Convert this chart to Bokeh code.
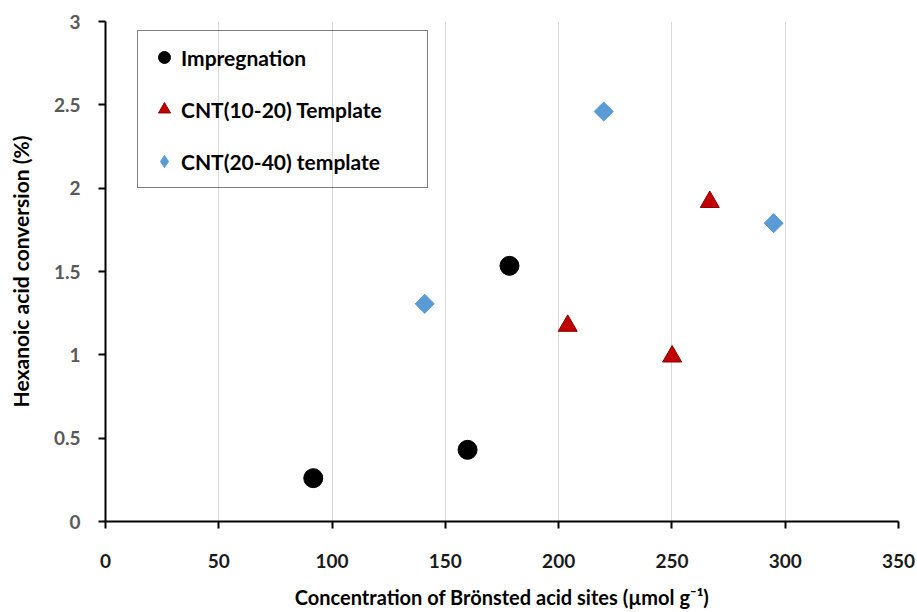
import numpy as np
from bokeh.plotting import figure
from bokeh.models import FixedTicker, Range1d, Legend, LegendItem
from bokeh.embed import file_html
from bokeh.resources import INLINE

# Data
impreg_x = [91.7, 159.8, 178.3]
impreg_y = [0.26, 0.43, 1.534]

cnt1020_x = [204.0, 250.1, 266.7]
cnt1020_y = [1.174, 0.99, 1.917]

cnt2040_x = [140.9, 219.9, 294.9]
cnt2040_y = [1.306, 2.46, 1.79]

x_ticks = [0, 50, 100, 150, 200, 250, 300, 350]
y_ticks = [0, 0.5, 1, 1.5, 2, 2.5, 3]
y_tick_labels = ["0", "0.5", "1", "1.5", "2", "2.5", "3"]

FONT = "Lato"
BLUE = "#5B9BD5"

p = figure(width=917, height=612, output_backend="svg", toolbar_location=None,
           x_range=Range1d(0, 350), y_range=Range1d(0, 3),
           min_border_left=105, min_border_right=19, min_border_top=21, min_border_bottom=91)
p.outline_line_color = None
p.background_fill_color = "white"
p.border_fill_color = "white"

r1 = p.scatter(impreg_x, impreg_y, marker="circle", size=19, fill_color="black", line_color="black")
r2 = p.scatter(cnt1020_x, cnt1020_y, marker="triangle", size=19, fill_color="#C00000", line_color="#8B0000")
# diamond glyph (used for the legend), fully covered by the rotated square below
r3_leg = p.scatter(cnt2040_x, cnt2040_y, marker="diamond", size=12, fill_color=BLUE, line_color=BLUE)
r3 = p.scatter(cnt2040_x, cnt2040_y, marker="square", angle=np.pi / 4, size=13.5,
               fill_color=BLUE, line_color=BLUE)

p.xaxis.ticker = FixedTicker(ticks=x_ticks)
p.yaxis.ticker = FixedTicker(ticks=y_ticks)
p.yaxis.major_label_overrides = {v: s for v, s in zip(y_ticks, y_tick_labels)}

for ax in (p.xaxis[0], p.yaxis[0]):
    ax.axis_line_width = 2
    ax.axis_line_color = "black"
    ax.major_tick_line_width = 2
    ax.major_tick_line_color = "black"
    ax.major_tick_out = 7
    ax.major_tick_in = 0
    ax.minor_tick_line_color = None
    ax.major_label_text_font = FONT
    ax.major_label_text_font_style = "bold"
    ax.major_label_text_font_size = "19px"
    ax.axis_label_text_font = FONT
    ax.axis_label_text_font_style = "bold"
    ax.axis_label_text_color = "black"

p.xaxis.axis_label_text_font_size = "20px"
p.yaxis.axis_label_text_font_size = "21px"
p.xaxis.major_label_text_color = "#1a1a1a"
p.yaxis.major_label_text_color = "#595959"
p.xaxis.major_label_standoff = 25
p.yaxis.major_label_standoff = 18
p.xaxis.axis_label = "Concentration of Brönsted acid sites (µmol g⁻¹)"
p.yaxis.axis_label = "Hexanoic acid conversion (%)"
p.xaxis.axis_label_standoff = 14
p.yaxis.axis_label_standoff = 18

p.xgrid.grid_line_color = "#d9d9d9"
p.xgrid.grid_line_width = 1
p.ygrid.grid_line_color = None

legend = Legend(items=[
    LegendItem(label="Impregnation", renderers=[r1]),
    LegendItem(label="CNT(10-20) Template", renderers=[r2]),
    LegendItem(label="CNT(20-40) template", renderers=[r3_leg]),
], location=(32, 333))
legend.glyph_width = 30
legend.glyph_height = 30
legend.label_height = 30
legend.label_width = 235
legend.spacing = 22
legend.padding = 11
legend.label_standoff = 2
legend.border_line_color = "black"
legend.border_line_width = 1
legend.background_fill_alpha = 0
legend.label_text_font = FONT
legend.label_text_font_style = "bold"
legend.label_text_font_size = "21px"
legend.label_text_color = "black"
legend.margin = 0
p.add_layout(legend)

open("out.html", "w").write(file_html(p, INLINE))
